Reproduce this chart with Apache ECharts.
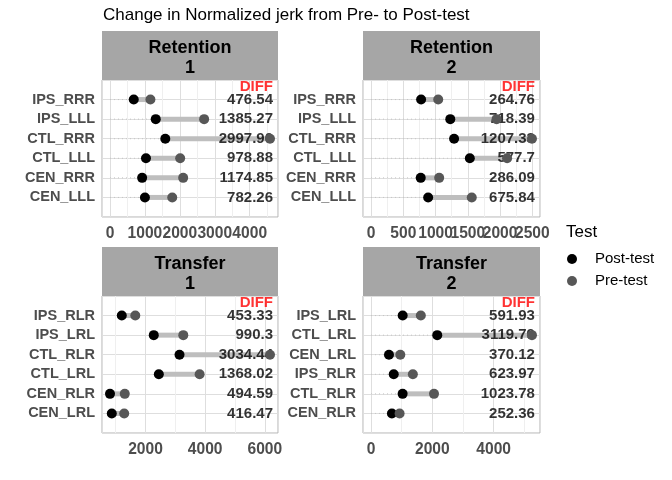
<!DOCTYPE html>
<html>
<head>
<meta charset="utf-8">
<script src="https://cdn.jsdelivr.net/npm/echarts@6/dist/echarts.min.js"></script>
<style>html,body{margin:0;padding:0;background:#fff}#c{width:672px;height:480px}</style>
</head>
<body>
<div id="c"></div>
<script>
// ---- data ----
const cats1 = ['IPS_RRR','IPS_LLL','CTL_RRR','CTL_LLL','CEN_RRR','CEN_LLL'];
const post1 = [680, 1310, 1583, 1030, 920, 1000];
const pre1  = [1157, 2695, 4581, 2009, 2095, 1782];
const diff1 = ['476.54','1385.27','2997.90','978.88','1174.85','782.26'];

const cats2 = ['IPS_RRR','IPS_LLL','CTL_RRR','CTL_LLL','CEN_RRR','CEN_LLL'];
const post2 = [776, 1228, 1287, 1531, 770, 885];
const pre2  = [1041, 1946, 2494, 2109, 1056, 1561];
const diff2 = ['264.76','718.39','1207.33','577.7','286.09','675.84'];

const cats3 = ['IPS_RLR','IPS_LRL','CTL_RLR','CTL_LRL','CEN_RLR','CEN_LRL'];
const post3 = [1205, 2277, 3140, 2447, 810, 870];
const pre3  = [1658, 3267, 6174, 3815, 1305, 1286];
const diff3 = ['453.33','990.3','3034.44','1368.02','494.59','416.47'];

const cats4 = ['IPS_LRL','CTL_LRL','CEN_LRL','IPS_RLR','CTL_RLR','CEN_RLR'];
const post4 = [1032, 2160, 585, 740, 1030, 680];
const pre4  = [1624, 5250, 955, 1364, 2054, 932];
const diff4 = ['591.93','3119.79','370.12','623.97','1023.78','252.36'];

const stripLabels = ['Retention\n1','Retention\n2','Transfer\n1','Transfer\n2'];

// ---- layout / style ----
const panels = [
  {cats:cats1, post:post1, pre:pre1, diff:diff1, fromZero:true,  step:1000, split:5, grid:{left:102, top:80,  width:176, height:137}},
  {cats:cats2, post:post2, pre:pre2, diff:diff2, fromZero:true,  step:500,  split:5, grid:{left:363, top:80,  width:177, height:137}},
  {cats:cats3, post:post3, pre:pre3, diff:diff3, fromZero:false, step:2000, split:3, grid:{left:102, top:296, width:176, height:137}},
  {cats:cats4, post:post4, pre:pre4, diff:diff4, fromZero:true,  step:2000, split:3, grid:{left:363, top:296, width:177, height:137}}
];
const FONT = 'Liberation Sans';
const grids = [], xAxes = [], yAxes = [], series = [], graphics = [];

panels.forEach((p, i) => {
  const n = p.cats.length;
  const lo = p.fromZero ? 0 : Math.min(...p.post, ...p.pre);
  const hi = Math.max(...p.post, ...p.pre);
  const pad = (hi - lo) * 0.05;
  grids.push(Object.assign({show:true, borderColor:'#B3B3B3', borderWidth:1, backgroundColor:'#fff'}, p.grid));
  const step = p.step;
  xAxes.push({
    type:'value', gridIndex:i, min:lo - pad, max:hi + pad, splitNumber:p.split,
    axisLine:{show:false}, axisTick:{show:false},
    axisLabel:{color:'#4D4D4D', fontWeight:'bold', fontSize:15.6, fontFamily:FONT, margin:9,
      formatter: v => (Math.abs(v % step) < 1e-6 ? String(v) : '')},
    splitLine:{show:true, lineStyle:{color:'#DEDEDE', width:1}},
    minorTick:{show:false, splitNumber:2},
    minorSplitLine:{show:true, lineStyle:{color:'#EFEFEF', width:1}}
  });
  yAxes.push({
    type:'value', gridIndex:i, min:0, max:n + 1, interval:1,
    axisLine:{show:false}, axisTick:{show:false},
    axisLabel:{color:'#4D4D4D', fontWeight:'bold', fontSize:14.5, fontFamily:FONT, margin:7,
      formatter: v => (v >= 1 && v <= n ? p.cats[n - v] : '')},
    splitLine:{show:true, lineStyle:{color:'#DEDEDE', width:1}}
  });
  const segData = p.cats.map((c, k) => [p.post[k], p.pre[k], n - k]);
  const fromZero = p.fromZero;
  series.push({
    type:'custom', xAxisIndex:i, yAxisIndex:i, z:2, silent:true,
    encode:{x:[0,1], y:2},
    data:segData,
    renderItem:(params, api) => {
      const y = api.value(2);
      const a = api.coord([api.value(0), y]);
      const b = api.coord([api.value(1), y]);
      const children = [];
      if (fromZero) {
        const z0 = api.coord([0, y]);
        children.push({type:'line', shape:{x1:z0[0], y1:z0[1], x2:a[0], y2:a[1]},
          style:{stroke:'#C4C4C4', lineWidth:1, lineDash:[1,3]}});
      }
      children.push({type:'line', shape:{x1:a[0], y1:a[1], x2:b[0], y2:b[1]},
        style:{stroke:'#BEBEBE', lineWidth:5}});
      return {type:'group', children};
    }
  });
  // diff labels
  const labData = p.diff.map((d, k) => ({value:[hi, n - k], label:{formatter:d}}));
  labData.push({value:[hi, n + 0.67], label:{formatter:'DIFF', color:'#FF0000'}});
  series.push({
    type:'scatter', xAxisIndex:i, yAxisIndex:i, z:3, silent:true, symbolSize:0,
    data:labData,
    label:{show:true, position:[3, 0], align:'right', verticalAlign:'middle',
      color:'#000', fontWeight:'bold', fontSize:15, fontFamily:FONT}
  });
  series.push({
    name:'Post-test', type:'scatter', xAxisIndex:i, yAxisIndex:i, z:4, symbolSize:10,
    itemStyle:{color:'#000000', opacity:1},
    data:p.post.map((v, k) => [v, n - k])
  });
  series.push({
    name:'Pre-test', type:'scatter', xAxisIndex:i, yAxisIndex:i, z:4, symbolSize:10,
    itemStyle:{color:'#575757', opacity:1},
    data:p.pre.map((v, k) => [v, n - k])
  });
  // strip
  const g = p.grid;
  const sTop = g.top - 49;
  graphics.push({type:'rect', shape:{x:g.left, y:sTop, width:g.width, height:49}, style:{fill:'#A6A6A6'}, silent:true});
  graphics.push({type:'text', x:g.left + g.width / 2, y:sTop + 27,
    style:{text:stripLabels[i], fontSize:18, fontWeight:'bold', fontFamily:FONT, fill:'#000',
      align:'center', verticalAlign:'middle', lineHeight:20}, silent:true});
});

const chart = echarts.init(document.getElementById('c'), null, {renderer:'canvas'});
chart.setOption({
  animation:false,
  backgroundColor:'#fff',
  textStyle:{fontFamily:FONT},
  title:[
    {text:'Change in Normalized jerk from Pre- to Post-test', left:103, top:7, padding:0,
      textStyle:{fontSize:17, fontWeight:'normal', color:'#000', fontFamily:FONT}},
    {text:'Test', left:566, top:224, padding:0,
      textStyle:{fontSize:17, fontWeight:'normal', color:'#000', fontFamily:FONT}}
  ],
  legend:{
    data:['Post-test','Pre-test'], orient:'vertical', left:567, top:251, padding:0,
    itemWidth:36, itemHeight:10, itemGap:6, icon:'circle',
    textStyle:{fontSize:15, color:'#000', fontFamily:FONT, lineHeight:16},
    selectedMode:false
  },
  grid:grids, xAxis:xAxes, yAxis:yAxes, series:series, graphic:graphics
});
</script>
</body>
</html>
